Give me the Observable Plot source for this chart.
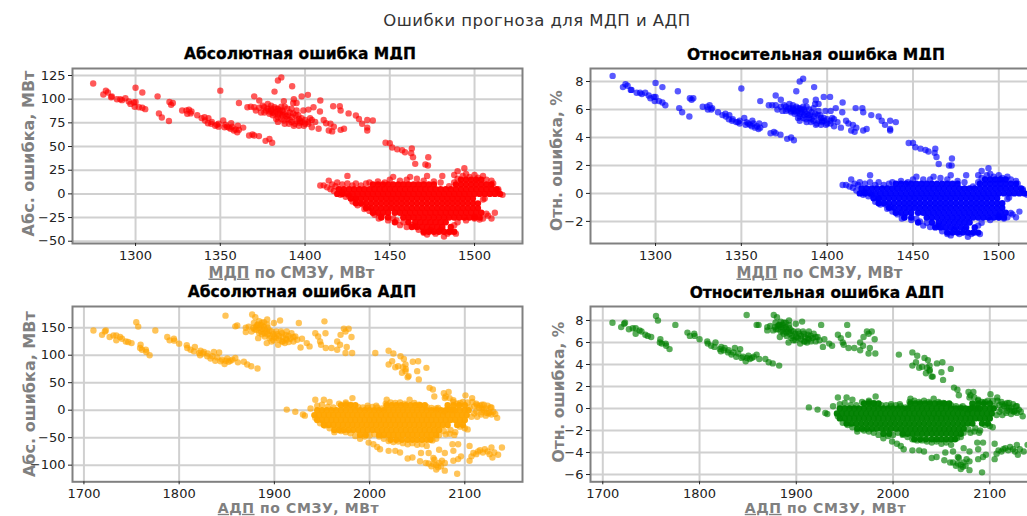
<!DOCTYPE html>
<html><head><meta charset="utf-8">
<script src="https://cdn.jsdelivr.net/npm/d3@7"></script>
<script src="https://cdn.jsdelivr.net/npm/@observablehq/plot@0.6"></script>
<style>
html,body{margin:0;padding:0;width:1027px;height:516px;overflow:hidden;background:#fff;font-family:"DejaVu Sans",sans-serif}
.t{position:absolute;white-space:nowrap;text-align:center}
.main{left:0;width:1074px;top:11px;font-size:16.5px;letter-spacing:.45px;color:#333}
.sub{font-size:15.5px;font-weight:bold;color:#000;width:450px;-webkit-text-stroke:.3px #000}
.p{position:absolute;width:528px}
</style></head><body>
<div class="t main">Ошибки прогноза для МДП и АДП</div>
<div class="t sub" style="left:75px;top:45px">Абсолютная ошибка МДП</div>
<div class="t sub" style="left:591px;top:46px">Относительная ошибка МДП</div>
<div class="t sub" style="left:77px;top:283px">Абсолютная ошибка АДП</div>
<div class="t sub" style="left:592px;top:284px">Относительная ошибка АДП</div>
<div id="a" class="p" style="left:0;top:60px"></div>
<div id="b" class="p" style="left:530px;top:60px"></div>
<div id="c" class="p" style="left:0;top:298px"></div>
<div id="d" class="p" style="left:530px;top:298px"></div>
<script>
// each point: [power, absolute error, relative error]
const mdpTail=[[1275,116.5,8.4],[1281,105,7.6],[1282.5,109,7.8],[1283.7,107,7.7],[1286,103,7.4],[1285.6,102,7.4],[1289,100,7.2],[1291,100,7.2],[1292,99,7.1],[1294,101,7.2],[1296,97.5,7],[1297,95,6.8],[1299,96.5,6.9],[1300,97,6.9],[1299.5,92,6.6],[1302,91.5,6.6],[1304,91,6.5],[1305.7,89.5,6.3],[1300,112,7.9],[1304,107,7.6],[1313,103,7.3],[1313.8,85,6.1],[1315.5,80.6,5.8],[1319.7,77,5.5],[1320,97,6.8],[1321,94,6.7],[1322,96,6.8]];
const mdpBand=[[1327.5,88,6.2],[1330,88,6.2],[1331.5,89,6.3],[1333,87,6.1],[1330.5,84.5,6],[1332.5,85,6],[1336.4,83,5.8],[1339,80,5.6],[1340.7,81,5.7],[1343,80,5.6],[1341,77.5,5.5],[1342.7,74.6,5.3],[1344.6,74,5.2],[1347,72,5.1],[1349,71,5],[1351.7,77.5,5.4],[1350,109,7.5],[1352.5,70.4,4.9],[1354,71,5],[1356.4,74.6,5.2],[1356,68.7,4.8],[1358,67,4.7],[1360,65,4.6],[1360.4,72,5],[1361,67.6,4.7],[1363.5,70,4.9],[1367,61.6,4.3],[1369,62.7,4.4],[1370,61.6,4.3],[1372.8,61,4.2],[1376.7,56,3.9],[1379,58,4],[1380.6,54,3.8],[1345,76,5.3],[1348,73,5.1],[1353,73,5.1],[1355,70,4.9],[1357,71,5],[1359,68,4.8],[1349,74,5.2]];
const mdpMid=[[1361,96,6.6],[1370,103,7],[1373,98.6,6.7],[1366,91.5,6.3],[1368,92,6.3],[1370,91.5,6.3],[1373,91,6.2],[1376,91.5,6.2],[1378,90,6.1],[1380,93,6.3],[1382,91.5,6.2],[1384,90,6.1],[1386.5,88,6],[1389.5,90,6],[1376,86,5.9],[1379,84.5,5.8],[1381,83,5.7],[1384,81,5.5],[1386.5,83,5.6],[1389.5,79,5.4],[1392.4,81,5.5],[1394.4,83,5.6],[1396.4,79,5.4],[1398.3,76,5.2],[1387.5,77.5,5.3],[1390.5,74,5.1],[1393.4,72,4.9],[1396.4,72,4.9],[1399.3,72,4.9],[1402,74,5],[1404,70.4,4.8],[1408,68.7,4.7],[1384,76,5.2],[1382,108,7.3],[1384,119.7,8],[1386,123,8.2],[1392.4,113.7,7.6],[1387.5,98,6.6],[1393.4,100,6.7],[1393,96,6.4],[1395,96,6.4],[1398,103,6.9],[1401.7,104.6,6.9],[1409,98.6,6.5],[1408.8,87,5.8],[1399,88,5.9],[1402,89,5.9],[1405,91.5,6.1],[1403,80,5.4],[1416.6,92.6,6.1],[1420.5,92.6,6.1],[1421,88,5.8],[1425.7,85,5.6],[1430,82.7,5.5],[1431.8,79,5.2],[1433.7,74,4.9],[1436.7,78,5.2],[1436.7,70,4.6],[1436.7,67,4.5],[1440,77.5,5.1],[1411,78,5.2],[1412.4,74.6,5],[1415,74,4.9],[1417,71,4.7],[1414,67,4.5],[1416,66,4.4],[1421,67.6,4.5],[1423,68.7,4.6],[1380,88,6],[1383,87,5.9],[1385,85,5.8],[1388,84,5.7],[1391,86,5.8],[1377,88,6],[1384,84,5.7],[1395,77,5.2],[1389,82,5.6],[1392,76,5.2],[1397,75,5.1],[1380,90,6.1],[1386,92,6.2],[1375,93,6.3],[1378,95,6.4],[1371,88,6],[1374,86,5.9],[1381,86,5.9],[1383,90,6.1],[1387,86,5.8],[1390,83,5.6],[1393,85,5.7],[1396,83,5.6],[1398,80,5.4],[1400,78,5.3],[1402,76,5.2],[1386,79,5.4],[1388,74,5.1],[1383,79,5.4],[1391,78,5.3],[1394,74,5],[1397,77,5.2],[1400,74,5],[1392,90,6.1],[1395,88,5.9],[1385,88,6],[1382,85,5.8],[1379,87,5.9],[1388,92,6.2],[1406,76,5.1],[1404,78,5.3]];
const mdpSteep=[[1447.5,54,3.6],[1450,53.5,3.6],[1451.4,49,3.3],[1454.4,47,3.2],[1457.3,46,3.1],[1459,44,3],[1463,48,3.2],[1462.6,43,2.9],[1463.7,38.7,2.6],[1465,31.7,2.1],[1472.7,38.7,2.5],[1471,31,2],[1472.5,30,2]];
const mdpEdge=[[1409,8.8,.6],[1411,9,.6],[1414,14,1],[1419,12,.8],[1413,7,.5],[1425,19,1.3],[1425,11,.8],[1430,11,.8],[1436,11,.7],[1452,18,1.2],[1462,18,1.2],[1472,19,1.3],[1481,19,1.3],[1494,27,1.8],[1490,24,1.6],[1488,20,1.3],[1495,21,1.4],[1500,20,1.3],[1505,19,1.2],[1510,14,.9],[1514,5,.3],[1516.5,-1,-.1],[1512,-20,-1.3],[1508,-23,-1.5],[1510,-26,-1.7],[1505,-26,-1.7],[1500,-26,-1.7],[1443.5,-26,-1.8],[1449,-28,-1.9],[1452,-26,-1.8],[1456,-33,-2.3],[1460,-35,-2.4],[1465,-34,-2.3],[1472,-43,-3],[1477,-42,-2.9],[1482,-45,-3.1],[1486,-40,-2.8],[1489,-42,-2.9],[1488,-33,-2.3],[1506,-5,-.3],[1505,-6,-.4],
[1416,10,.7],[1418,8,.6],[1422,10,.7],[1428,9,.6],[1433,9,.6],[1438,12,.8],[1443,13,.9],[1447,12,.8],[1450,15,1],[1456,14,1],[1460,15,1],[1466,16,1.1],[1470,14,1],[1476,13,.9],[1480,12,.8],[1485,8,.5],[1488,12,.8],[1490,16,1.1],[1493,19,1.3],[1497,18,1.2],[1502,17,1.1],[1507,15,1],[1511,11,.7],[1514,3,.2],
[1415,5,.4],[1417,3,.2],[1421,-1,-.1],[1424,-3,-.2],[1428,-8,-.6],[1431,-12,-.8],[1435,-16,-1.1],[1438,-18,-1.3],[1441,-22,-1.5],[1445,-24,-1.7],[1422,2,.1],[1426,-2,-.1],[1430,-6,-.4],[1434,-11,-.8],[1437,-14,-1],
[1454,-28,-2],[1458,-30,-2.1],[1463,-33,-2.3],[1467,-38,-2.7],[1470,-41,-2.9],[1474,-38,-2.6],[1480,-38,-2.6],[1484,-42,-2.9],[1490,-30,-2.1],[1495,-28,-1.9],[1500,-24,-1.6],[1503,-27,-1.8],[1507,-21,-1.4]];

const mdpRowAbs=[15,10,5,0,-5,-10,-15,-20,-25,-30,-35,-40];
const mdpRowRel=[1,.7,.35,0,-.35,-.7,-1.03,-1.38,-1.73,-2.08,-2.43,-2.8];
const mdpRowX=[
[1492,1495,1498,1501,1504],
[1440,1443,1446,1449,1452,1455,1458,1461,1464,1467,1470,1473,1476,1489,1492,1495,1498,1501,1504,1507,1510],
[1420,1423,1426,1429,1432,1435,1438,1441,1444,1447,1450,1453,1456,1459,1462,1465,1468,1471,1474,1477,1480,1483,1486,1489,1492,1495,1498,1501,1504,1507,1510,1513],
[1419,1422,1425,1428,1431,1434,1437,1440,1443,1446,1449,1452,1455,1458,1461,1464,1467,1470,1473,1476,1479,1482,1485,1488,1491,1494,1497,1500,1503,1506,1509,1512,1515],
[1427,1430,1433,1436,1439,1442,1445,1448,1451,1454,1457,1460,1463,1466,1469,1472,1475,1478,1481,1484,1487,1490,1493,1496,1499],
[1430,1433,1436,1439,1442,1445,1448,1451,1454,1457,1460,1463,1466,1469,1472,1475,1478,1481,1484,1487,1490,1493,1496,1499,1502],
[1436,1439,1442,1445,1448,1451,1454,1457,1460,1463,1466,1469,1472,1475,1478,1481,1484,1487,1490,1493,1496,1499,1502],
[1440,1443,1446,1449,1453,1456,1459,1462,1465,1468,1471,1474,1477,1480,1483,1486,1489,1492,1495,1498,1501,1504],
[1445,1449,1458,1461,1464,1467,1470,1473,1476,1479,1482,1485,1488,1491,1494,1497,1500,1503],
[1453,1461,1465,1468,1471,1474,1477,1480,1483],
[1463,1466,1469,1472,1475,1478,1481,1486],
[1470,1473,1476,1479,1482,1485,1488]];

const adpTail=[[1710,145,7.8],[1719,137,7.4],[1722,143,7.7],[1723,145,7.8],[1727,133,7.2],[1731,136,7.3],[1734,136,7.3],[1734,127,6.8],[1738,133,7.1],[1740,130,7],[1744,125,6.7],[1746.5,124,6.6],[1750,122,6.5],[1755,160,8.4],[1757,152,8],[1759.5,119,6.3],[1759,113,6],[1761,110,5.9],[1765,110,5.9],[1765.5,106,5.7],[1769,100,5.4],[1775,145,7.6]];
const adpBand=[[1787.5,133,6.9],[1790,127,6.6],[1794.5,130,6.8],[1795,126.5,6.6],[1800,121,6.3],[1808,118,6.1],[1808.5,113,5.9],[1812,110,5.7],[1816.5,115,6],[1815.5,107,5.6],[1821,104,5.4],[1822.5,108,5.6],[1826,106,5.5],[1822,100,5.2],[1829.5,98,5.1],[1836.5,106,5.5],[1842,105,5.4],[1833,94,4.9],[1838,90,4.7],[1843.5,89,4.6],[1847.7,84,4.3],[1850.5,94,4.8],[1854,90,4.6],[1859,95,4.9],[1861.7,87,4.5],[1868,88,4.5],[1871.5,83,4.2],[1875.7,80,4.1],[1882.3,75.7,3.9],[1848.7,172,8.5],[1859,152.5,7.6],[1861,154,7.6],[1825,103,5.3],[1830,103,5.3],[1835,98,5.1],[1840,96,5],[1845,92,4.7],[1849,90,4.6],[1852,88,4.5],[1856,92,4.7]];
const adpMid=[[1870,142,7.1],[1870,150,7.4],[1876.7,174,8.5],[1880,169,8.3],[1873,152,7.5],[1878.5,158.6,7.8],[1882,155,7.6],[1884,162,7.9],[1887,159,7.8],[1892.5,165,8],[1892.5,156,7.6],[1889,152,7.4],[1881,146,7.2],[1876,143,7.1],[1886,143,7],[1892,143,7],[1897,143,7],[1899.5,158.6,7.7],[1906,163,7.9],[1883,131,6.5],[1890,134,6.6],[1895,131,6.4],[1902,143,7],[1908,140,6.8],[1913,143,7],[1918,140,6.8],[1922,134,6.5],[1925.7,158.6,7.6],[1929,130,6.3],[1902,131,6.4],[1908,125,6.1],[1913,128,6.3],[1920,125,6.1],[1892,122,6],[1897,125,6.2],[1904,119,5.9],[1911,122,6],[1927.5,114,5.6],[1934,122,5.9],[1937,116,5.7],[1943,140,6.7],[1946,134,6.4],[1948,125,6],[1952.6,161.6,7.6],[1953.7,140,6.7],[1949,119,5.8],[1954,113,5.5],[1960,113,5.5],[1966,110,5.3],[1969.5,137,6.5],[1973,148,7],[1978,148,7],[1974.7,143,6.8],[1981,133,6.3],[1966,125,6],[1969,119,5.7],[1976,115,5.5],[1974.7,104,5],[1981.7,104,5],
[1878,150,7.4],[1881,152,7.5],[1884,150,7.4],[1887,148,7.3],[1879,147,7.2],[1883,156,7.6],[1886,155,7.6],[1889,160,7.8],[1890,147,7.2],[1893,150,7.3],[1895,145,7.1],[1884,141,7],[1887,138,6.8],[1890,140,6.9],[1893,138,6.8],[1896,135,6.6],[1899,138,6.8],[1900,133,6.5],[1905,135,6.6],[1909,133,6.5],[1912,137,6.7],[1915,135,6.6],[1917,130,6.4],[1920,133,6.5],[1905,128,6.3],[1899,127,6.2],[1909,125,6.1],[1903,138,6.8],[1907,143,7],[1912,130,6.4],[1924,128,6.2],[1915,124,6.1]];
const adpSteep=[[2006,104,4.9],[2020,108,5.1],[2025,103,4.8],[2032.5,98,4.6],[2020,83,3.9],[2023.7,89,4.2],[2027,78,3.7],[2036,93,4.4],[2037.7,83,3.9],[2045.4,88,4.1],[2051,89,4.2],[2037.7,71,3.4],[2034,68,3.2],[2040,60,2.9],[2050,71,3.3],[2051.7,56,2.6],[2059.7,77,3.6],[2063,40.6,1.9],[2066.5,37.5,1.7],[2068,25,1.2],[2030,80,3.8],[2035,78,3.7],[2038,75,3.5],[2041,62,2.9]];
const adpUpper=[[2078,31,1.5],[2083,33,1.5],[2079,22,1],[2088,18,.8],[2095,13,.6],[2100.7,27,1.3],[2107.7,22,1],[2113,9,.4],[2120,10,.5],[2127,5,.2],[2134,-14,-.7],[2128,-8,-.4],[2123,-5,-.2],[2118,3,.1],[1913,1,.1],[1922,-3,-.1],[1930,-8,-.4],[1932,-10,-.5],[1938,3,.2],[1943,19,1],[1952,19,1],[1958,15,.8],[1982,22,1.1],[1975,12,.6],[2018,19,.9],[2042,19,.9],[2007,8,.4],[1998,8,.4],
[2080,25,1.2],[2084,22,1],[2088,15,.7],[2092,12,.6],[2098,15,.7],[2103,14,.7],[2108,15,.7],[2112,12,.6],[2118,10,.5],[2124,8,.4],[2128,5,.2],[2130,-3,-.1],[2132,-7,-.3],[2126,-4,-.2],
[2110,7,.3],[2115,4,.2],[2120,0,0],[2125,-6,-.3],[2112,-2,-.1],[2117,-8,-.4],[2122,-10,-.5],[2107,-12,-.6],[2113,-12,-.6],[2118,-4,-.2],[2105,5,.2],[2110,-6,-.3],[2116,8,.4],[2122,3,.1]];
const adpEdge=[[1945,8,.4],[1950,10,.5],[1956,6,.3],[1962,5,.3],[1968,12,.6],[1975,14,.7],[1980,10,.5],[1988,6,.3],[1993,5,.3],[1998,4,.2],[2003,6,.3],[2008,5,.2],[2013,3,.1],[2017,12,.6],[2022,14,.7],[2027,13,.6],[2032,14,.7],[2037,12,.6],[2047,13,.6],[2052,10,.5],[2060,6,.3],[2065,4,.2],[2070,3,.1],[2078,-2,-.1],[2083,2,.1],[2088,0,0],[2072,4,.2],
[2078,-38,-1.9],[2085,-36,-1.8],[2090,-40,-2],[2095,-30,-1.5],[2100,-33,-1.6],[2103,-35,-1.7],[2080,-44,-2.2],
[1943,-14,-.7],[1948,-24,-1.3],[1953,-28,-1.5],[1958,-33,-1.7],[1963,-40,-2.1],[1970,-38,-2],[1975,-40,-2.1],[1980,-42,-2.2],[1985,-47,-2.4],[1990,-52,-2.7],[1995,-48,-2.5],[2000,-46,-2.4],[2005,-44,-2.2],[2010,-48,-2.4],[2015,-52,-2.6],[2020,-56,-2.8],[2025,-58,-2.9],[2030,-57,-2.9],[2035,-60,-3],[2040,-62,-3.1],[2045,-60,-3],[2050,-63,-3.2],[2055,-62,-3.1],[2060,-65,-3.3],[2066,-55,-2.7],[2070,-52,-2.6],[2073,-45,-2.2]];
const adpLower=[[1999,-59,-3],[2004,-62,-3.2],[2008,-67,-3.4],[2011,-71,-3.7],[2020,-74,-3.8],[2027,-74,-3.8],[2032,-77,-3.9],[2040,-88,-4.5],[2045,-86,-4.4],[2053,-93,-4.7],[2059,-96,-4.9],[2054,-78,-4],[2062,-78,-3.9],[2067,-87,-4.4],[2073,-72,-3.6],[2079,-78,-3.9],[2065,-102,-5.2],[2073,-96,-4.9],[2079,-96,-4.8],[2070,-108,-5.5],[2079,-110,-5.6],[2092,-115.6,-5.8],[2088,-92,-4.6],[2093,-89,-4.4],[2088,-74,-3.7],[2093,-62,-3.1],[2087,-62,-3.1],[2105,-65,-3.2],[2096,-84,-4.2],[2105,-92,-4.6],[2107,-84,-4.1],[2114,-75,-3.7],[2121,-71,-3.5],[2128,-68,-3.3],[2139,-68,-3.3],[2131,-77,-3.7],[2135,-81,-3.9],[2129,-86,-4.2],[2112,-80,-3.9],[2119,-77,-3.8],[2068,-90,-4.5],[2075,-102,-5.2],[2062,-97,-4.9],[2084,-43,-2.1],[2089,-45,-2.2],[2070,-100,-5.1],[2076,-92,-4.6],[2067,-98,-5],[2072,-104,-5.3],[2116,-73,-3.6],[2124,-75,-3.7],[2109,-78,-3.8],[2126,-80,-3.9]];

const adpRowAbs=[9,0,-9,-18,-27,-36,-45,-54];
const adpRowRel=[.45,0,-.45,-.9,-1.37,-1.83,-2.3,-2.8];
const adpRowX=[
[1970,1975,1980,1985,2018,2023,2028,2033,2038,2043,2048,2053,2058,2082,2088,2094,2100],
[1945,1950,1955,1960,1965,1970,1975,1980,1985,1990,1995,2000,2005,2010,2015,2020,2025,2030,2035,2040,2045,2050,2055,2060,2065,2070,2075,2080,2085,2090,2095,2100,2104],
[1942,1947,1952,1957,1962,1967,1972,1977,1982,1987,1992,1997,2002,2007,2012,2017,2022,2027,2032,2037,2042,2047,2052,2057,2062,2067,2072,2077,2082,2087,2092,2097,2102],
[1945,1950,1955,1960,1965,1970,1975,1980,1985,1990,1995,2000,2005,2010,2015,2020,2025,2030,2035,2040,2045,2050,2055,2060,2065,2070,2075,2080,2085,2090,2095,2100],
[1952,1957,1962,1967,1972,1977,1982,1987,1992,1997,2002,2007,2012,2017,2022,2027,2032,2037,2042,2047,2052,2057,2062,2067,2072,2077,2082,2092,2098],
[1963,1968,1973,1978,1983,1988,1993,1998,2003,2008,2013,2018,2023,2028,2033,2038,2043,2048,2053,2058,2063,2068,2073],
[1990,1996,2010,2015,2020,2025,2030,2035,2040,2045,2050,2055,2060,2065,2070],
[2022,2028,2034,2040,2045,2050,2055,2060,2064]];

const mdpTicks=[1300,1350,1400,1450,1500];
const adpTicks=[1700,1800,1900,2000,2100];
const absMdpTicks=[-50,-25,0,25,50,75,100,125];
const relMdpTicks=[-2,0,2,4,6,8];
const absAdpTicks=[-100,-50,0,50,100,150];
const relAdpTicks=[-6,-4,-2,0,2,4,6,8];

const mdpLoose=[...mdpTail,...mdpBand,...mdpMid,...mdpSteep,...mdpEdge];
const adpLoose=[...adpTail,...adpBand,...adpMid,...adpSteep,...adpUpper,...adpEdge,...adpLower];
const core=(rows,levels)=>rows.flatMap((xs,i)=>xs.map(x=>[x,levels[i]]));

function panel(id,o){
  const fig=Plot.plot({
    width:o.width,height:o.height,marginLeft:o.ml,marginRight:6,marginTop:8,marginBottom:o.height-8-o.ph,
    x:{domain:o.xd},y:{domain:o.yd},
    style:{fontFamily:'"DejaVu Sans",sans-serif',fontSize:"13px",color:"#222",background:"#fff",maxWidth:"none"},
    marks:[
      Plot.gridX(o.xt,{stroke:"#d0d0d0",strokeOpacity:1,strokeWidth:2}),
      Plot.gridY(o.yt,{stroke:"#d0d0d0",strokeOpacity:1,strokeWidth:2}),
      Plot.dot(o.core,{x:d=>d[0],y:d=>d[1],r:3.2,fill:o.color,fillOpacity:.97}),
      Plot.dot(o.loose,{x:d=>d[0],y:d=>o.rel?d[2]:d[1],r:3.2,fill:o.color,fillOpacity:.65}),
      Plot.frame({stroke:"#808080",strokeWidth:2}),
      Plot.axisX(o.xt,{label:o.xl,labelAnchor:"center",labelArrow:"none",labelOffset:o.xo,tickSize:3,tickPadding:4,fontSize:13,tickFormat:d3.format("d")}),
      Plot.axisY(o.yt,{label:o.yl,labelAnchor:"center",labelArrow:"none",labelOffset:o.yo,tickSize:4,tickPadding:3,fontSize:13,tickFormat:d3.format("d")})
    ]});
  const s=d3.select(fig);
  s.selectAll('g[aria-label="x-axis label"] text,g[aria-label="y-axis label"] text').attr("font-weight","bold").attr("fill","#808080");
  s.select('g[aria-label="y-axis label"] text').attr("font-size",o.ys).attr("dx",o.ydx);
  s.select('g[aria-label="x-axis label"] text').attr("font-size",o.xs).attr("letter-spacing",o.xls).attr("dx",o.xdx).each(function(){
    const t=this.textContent,i=t.indexOf(" ");const el=d3.select(this);el.text("");
    el.append("tspan").attr("text-decoration","underline").text(t.slice(0,i));
    el.append("tspan").text(t.slice(i));
  });
  document.getElementById(id).appendChild(fig);
}
panel("a",{width:528,height:223,ph:175,ml:72,xd:[1262.8,1528.3],yd:[-52.4,132.4],xt:mdpTicks,yt:absMdpTicks,color:"red",core:core(mdpRowX,mdpRowAbs),loose:mdpLoose,rel:false,xl:"МДП по СМЗУ, МВт",yl:"Абс. ошибка, МВт",xo:34,yo:50,ys:16,xs:15,xls:0,xdx:-6,ydx:2.5});
panel("b",{width:516,height:223,ph:175,ml:60,xd:[1262.1,1524.3],yd:[-3.58,8.93],xt:mdpTicks,yt:relMdpTicks,color:"blue",core:core(mdpRowX,mdpRowRel),loose:mdpLoose,rel:true,xl:"МДП по СМЗУ, МВт",yl:"Отн. ошибка, %",xo:34,yo:40,ys:15.5,xs:15,xls:0,xdx:4,ydx:-4.5});
panel("c",{width:528,height:218,ph:175.3,ml:72,xd:[1688,2160.6],yd:[-130.3,188.6],xt:adpTicks,yt:absAdpTicks,color:"orange",core:core(adpRowX,adpRowAbs),loose:adpLoose,rel:false,xl:"АДП по СМЗУ, МВт",yl:"Абс. ошибка, МВт",xo:31,yo:49,ys:16,xs:14,xls:.6,xdx:1,ydx:0});
panel("d",{width:516,height:218,ph:175.3,ml:60,xd:[1687.3,2152.4],yd:[-6.66,9.27],xt:adpTicks,yt:relAdpTicks,color:"green",core:core(adpRowX,adpRowRel),loose:adpLoose,rel:true,xl:"АДП по СМЗУ, МВт",yl:"Отн. ошибка, %",xo:31,yo:38,ys:15.5,xs:14,xls:.6,xdx:10,ydx:2});
</script>
</body></html>
